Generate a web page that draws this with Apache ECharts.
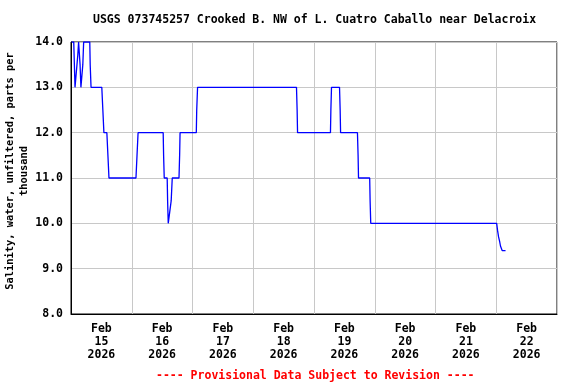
<!DOCTYPE html>
<html><head><meta charset="utf-8">
<script src="https://cdn.jsdelivr.net/npm/echarts@6/dist/echarts.min.js"></script>
<style>html,body{margin:0;padding:0;background:#fff}#c{width:576px;height:384px}</style>
</head><body><div id="c"></div>
<script>
const titleText = 'USGS 073745257 Crooked B. NW of L. Cuatro Caballo near Delacroix';
const yAxisTitle = 'Salinity, water, unfiltered, parts per\nthousand';
const footnote = '---- Provisional Data Subject to Revision ----';
const dayLabels = ['2026-02-15','2026-02-16','2026-02-17','2026-02-18','2026-02-19','2026-02-20','2026-02-21','2026-02-22'];
const axisStart = '2026-02-15 00:00';
const axisEnd = '2026-02-23 00:00';
const yMin = 8, yMax = 14, yStep = 1;

const times = [
 '2026-02-15 00:15','2026-02-15 01:05','2026-02-15 01:20','2026-02-15 01:35','2026-02-15 02:20','2026-02-15 02:40',
 '2026-02-15 03:00','2026-02-15 03:25','2026-02-15 03:35','2026-02-15 03:55','2026-02-15 04:25','2026-02-15 04:40',
 '2026-02-15 05:00','2026-02-15 07:25','2026-02-15 07:35','2026-02-15 07:55','2026-02-15 12:10','2026-02-15 12:35',
 '2026-02-15 13:00','2026-02-15 14:10','2026-02-15 14:35','2026-02-15 15:00','2026-02-16 01:40','2026-02-16 02:05',
 '2026-02-16 02:30','2026-02-16 12:25','2026-02-16 12:35','2026-02-16 12:50','2026-02-16 14:00','2026-02-16 14:10',
 '2026-02-16 14:25','2026-02-16 15:10','2026-02-16 15:35','2026-02-16 16:00','2026-02-16 18:40','2026-02-16 18:55',
 '2026-02-16 19:05','2026-02-17 01:30','2026-02-17 01:40','2026-02-17 02:00','2026-02-18 17:05','2026-02-18 17:20',
 '2026-02-18 17:30','2026-02-19 06:30','2026-02-19 06:40','2026-02-19 06:55','2026-02-19 10:05','2026-02-19 10:20',
 '2026-02-19 10:30','2026-02-19 17:10','2026-02-19 17:25','2026-02-19 17:35','2026-02-19 22:00','2026-02-19 22:10',
 '2026-02-19 22:25','2026-02-22 00:10','2026-02-22 00:30','2026-02-22 00:55','2026-02-22 01:20','2026-02-22 01:40',
 '2026-02-22 02:20','2026-02-22 03:40'
];
const salinity = [
 14,14,13.5,13,13,13.7,
 14,14,13.5,13,13,13.5,
 14,14,13.5,13,13,12.5,
 12,12,11.5,11,11,11.5,
 12,12,11.5,11,11,10.5,
 10,10,10.5,11,11,11.5,
 12,12,12.5,13,13,12.5,
 12,12,12.5,13,13,12.5,
 12,12,11.5,11,11,10.5,
 10,10,9.85,9.7,9.6,9.5,
 9.4,9.4
];

function parseT(s){
  const [d,t] = s.split(' ');
  const [Y,M,D] = d.split('-').map(Number);
  const [h,m] = (t||'00:00').split(':').map(Number);
  return Date.UTC(Y,M-1,D,h,m);
}
const DAY = 86400000;
const MONTHS = ['Jan','Feb','Mar','Apr','May','Jun','Jul','Aug','Sep','Oct','Nov','Dec'];
const labelValues = dayLabels.map(d => parseT(d + ' 12:00'));
const seriesData = times.map((t,i) => [parseT(t), salinity[i]]);

const FONT = 'DejaVu Sans Mono';
const chart = echarts.init(document.getElementById('c'), null, {renderer:'canvas'});
chart.setOption({
  animation: false,
  backgroundColor: '#fff',
  title: [
    {text: titleText, left: 88, top: 9,
     textStyle: {fontFamily: FONT, fontWeight: 'bold', fontSize: 11.5, color: '#000'}},
    {text: footnote, left: 151, top: 365,
     textStyle: {fontFamily: FONT, fontWeight: 'bold', fontSize: 11.5, color: '#ff0000'}}
  ],
  grid: {left: 71, right: 19, top: 42, bottom: 70, show: true, borderColor: '#000', borderWidth: 1,
         containLabel: false, outerBoundsMode: 'none'},
  xAxis: {
    type: 'value', min: parseT(axisStart), max: parseT(axisEnd), interval: DAY,
    axisLine: {show: true, lineStyle: {color: '#000', width: 1}},
    axisTick: {show: false},
    splitLine: {show: true, lineStyle: {color: '#c8c8c8', width: 1}},
    axisLabel: {
      customValues: labelValues, margin: 9, lineHeight: 13,
      fontFamily: FONT, fontWeight: 'bold', fontSize: 11.5, color: '#000',
      formatter: v => { const d = new Date(v); return MONTHS[d.getUTCMonth()] + '\n' + d.getUTCDate() + '\n' + d.getUTCFullYear(); }
    }
  },
  yAxis: {
    type: 'value', min: yMin, max: yMax, interval: yStep,
    name: yAxisTitle, nameLocation: 'middle', nameGap: 40, nameRotate: 90, nameMoveOverlap: false,
    nameTextStyle: {fontFamily: FONT, fontWeight: 'bold', fontSize: 10.4, color: '#000', lineHeight: 13.5,
      padding: [0, 0, 0, 14]},
    axisLine: {show: true, lineStyle: {color: '#000', width: 1}},
    axisTick: {show: false},
    splitLine: {show: true, lineStyle: {color: '#c8c8c8', width: 1}},
    axisLabel: {margin: 8, fontFamily: FONT, fontWeight: 'bold', fontSize: 11.5, color: '#000',
      formatter: v => v.toFixed(1)}
  },
  series: [{
    type: 'line', data: seriesData, showSymbol: false, symbol: 'none',
    lineStyle: {color: '#0000ff', width: 1.3}, clip: true
  }]
});
</script></body></html>
